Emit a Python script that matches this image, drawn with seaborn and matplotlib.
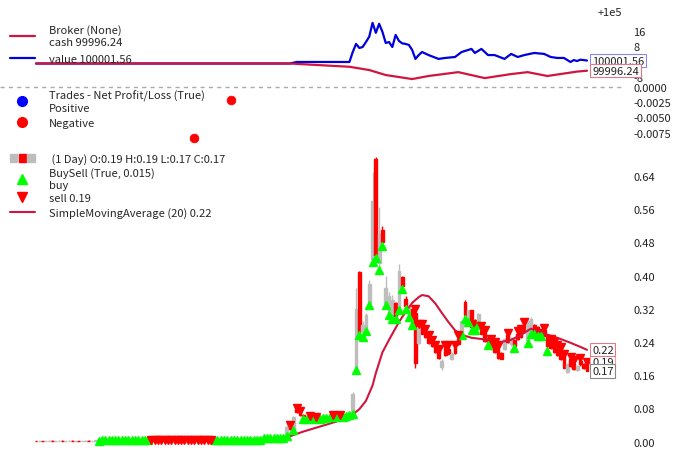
import numpy as np
import pandas as pd
import matplotlib
matplotlib.use("Agg")
import matplotlib.pyplot as plt
import matplotlib.transforms as mtransforms
from matplotlib.patches import Rectangle
from matplotlib.lines import Line2D
from matplotlib.legend_handler import HandlerTuple
import seaborn as sns

sns.set_style("white")
plt.rcParams['font.family'] = ['Noto Sans CJK SC', 'DejaVu Sans']
plt.rcParams['font.size'] = 8
plt.rcParams['axes.unicode_minus'] = False

# ---------------- data ----------------
opens = [
    # 0-18
    .0022, .0020, .0023, .0019, .0022, .0024, .0020, .0021, .0024, .0019, .0022, .0025, .0021, .0023, .0019, .0022, .0024, .0020, .0023,
    # 19-34
    .0027, .0030, .0032, .0029, .0031, .0033, .0030, .0032, .0034, .0031, .0033, .0035, .0032, .0034, .0031, .0033,
    # 35-53
    .0040, .0042, .0041, .0043, .0042, .0044, .0043, .0042, .0044, .0043, .0045, .0044, .0043, .0045, .0044, .0042, .0043, .0041, .0042,
    # 54-68
    .0038, .0040, .0042, .0041, .0043, .0042, .0044, .0043, .0045, .0044, .0046, .0045, .0047, .0046, .0048,
    # 69-74
    .0080, .0088, .0085, .0092, .0090, .0096,
    # 75-95
    .0100, .0140, .0380, .0300, .0780, .0720, .064, .056, .058, .057, .058, .056, .059, .060, .061, .062, .060, .063, .061, .065, .066,
    # 96-114
    .070, .180, .408, .265, .275, .335, .440, .680, .430, .510, .335, .310, .300, .334, .324, .396, .343, .310, .320,
    # 115-128
    .310, .238, .276, .262, .250, .240, .228, .218, .180, .226, .222, .200, .226, .246,
    # 129-148
    .262, .336, .295, .317, .293, .286, .270, .262, .250, .240, .232, .224, .214, .222, .256, .236, .245, .258, .262, .282,
    # 149-167
    .245, .264, .280, .275, .270, .268, .252, .240, .232, .225, .220, .205, .168, .198, .190, .172, .195, .188, .190,
]
highs = [
    .0024, .0025, .0025, .0024, .0026, .0026, .0023, .0026, .0026, .0024, .0027, .0027, .0025, .0025, .0024, .0026, .0026, .0025, .0028,
    .0032, .0034, .0034, .0033, .0035, .0035, .0034, .0036, .0036, .0035, .0037, .0037, .0036, .0036, .0035, .0037,
    .0042, .0044, .0043, .0045, .0044, .0046, .0045, .0044, .0046, .0045, .0047, .0046, .0045, .0047, .0046, .0044, .0045, .0043, .0044,
    .0043, .0045, .0044, .0046, .0045, .0047, .0046, .0048, .0047, .0049, .0048, .0050, .0049, .0051, .0054,
    .0092, .0091, .0095, .0094, .0099, .0104,
    .0150, .0420, .0400, .0620, .0800, .0730, .066, .060, .060, .059, .059, .060, .061, .062, .063, .063, .064, .064, .066, .068, .070,
    .120, .370, .410, .290, .310, .390, .650, .685, .565, .520, .400, .360, .353, .336, .427, .400, .350, .330, .322,
    .315, .280, .280, .266, .254, .242, .230, .220, .198, .228, .228, .215, .228, .252,
    .292, .340, .318, .318, .296, .310, .274, .264, .256, .244, .236, .226, .216, .250, .258, .252, .248, .262, .266, .284,
    .300, .300, .283, .278, .272, .270, .254, .244, .236, .228, .224, .208, .190, .200, .194, .185, .198, .190, .190,
]
lows = [
    .0018, .0018, .0017, .0017, .0020, .0018, .0018, .0019, .0017, .0017, .0020, .0019, .0019, .0017, .0017, .0020, .0018, .0018, .0021,
    .0025, .0028, .0027, .0027, .0029, .0028, .0028, .0030, .0029, .0029, .0031, .0030, .0030, .0029, .0029, .0031,
    .0034, .0037, .0035, .0038, .0036, .0039, .0038, .0036, .0039, .0037, .0040, .0038, .0037, .0040, .0038, .0036, .0038, .0035, .0037,
    .0036, .0038, .0038, .0039, .0040, .0040, .0041, .0041, .0042, .0042, .0043, .0043, .0044, .0044, .0046,
    .0078, .0082, .0083, .0087, .0088, .0094,
    .0095, .0130, .0280, .0280, .0680, .0620, .054, .055, .056, .055, .055, .055, .057, .058, .059, .059, .059, .060, .060, .063, .064,
    .068, .175, .260, .255, .270, .335, .440, .450, .420, .478, .335, .310, .300, .300, .322, .372, .324, .305, .285,
    .178, .236, .258, .250, .236, .228, .214, .200, .172, .205, .210, .196, .212, .232,
    .260, .300, .293, .272, .274, .284, .258, .240, .236, .222, .214, .200, .198, .220, .238, .230, .228, .245, .250, .262,
    .240, .262, .262, .258, .257, .254, .222, .222, .214, .206, .196, .176, .165, .180, .172, .170, .182, .175, .170,
]
closes = [
    .0020, .0023, .0019, .0022, .0024, .0020, .0021, .0024, .0019, .0022, .0025, .0021, .0023, .0019, .0022, .0024, .0020, .0023, .0026,
    .0030, .0032, .0029, .0031, .0033, .0030, .0032, .0034, .0031, .0033, .0035, .0032, .0034, .0031, .0033, .0035,
    .0036, .0039, .0037, .0040, .0038, .0041, .0040, .0038, .0041, .0039, .0042, .0040, .0039, .0042, .0040, .0038, .0040, .0037, .0039,
    .0041, .0043, .0040, .0044, .0042, .0045, .0043, .0046, .0044, .0047, .0045, .0048, .0046, .0049, .0052,
    .0088, .0085, .0092, .0090, .0096, .0100,
    .0140, .0350, .0300, .0580, .0700, .0640, .056, .058, .057, .058, .056, .059, .060, .061, .062, .060, .063, .061, .065, .066, .069,
    .115, .320, .265, .280, .305, .380, .580, .450, .500, .480, .370, .350, .340, .302, .410, .374, .326, .325, .288,
    .190, .276, .260, .252, .238, .230, .216, .202, .195, .208, .212, .212, .214, .236,
    .290, .306, .316, .275, .276, .308, .260, .242, .238, .224, .216, .202, .200, .246, .240, .250, .230, .248, .252, .264,
    .290, .295, .264, .260, .258, .255, .230, .225, .216, .208, .198, .178, .186, .182, .174, .182, .186, .178, .170,
]
# B = buy marker, S = sell marker, - = none (one letter per bar)
signals = ("-------------------"
           "BBBBBBBBBBBBBBBB"
           "SSSSSSSSSSSSSSSSSSS"
           "BBBBBBBBBBBBBBB"
           "BBBBBB"
           "BBSBSSBBSBSBBBBSBSBBB"
           "BBBBBBBBBBBBBBBBBBB"
           "SSSSSSSS"
           "-SS-SS"
           "BBBBBB"
           "SSBSSS--S-BSSS"
           "BBBBB"
           "SBSSSSS-SS-S-S")

sma_idx = [19, 40, 60, 72, 76, 81, 86, 91, 96, 98, 100, 102, 103, 105, 107, 110, 112, 114, 116, 117,
           119, 121, 123, 125, 127, 129, 132, 137, 141, 144, 147, 150, 152, 154, 158, 162, 165, 167]
sma_vals = [.0030, .0033, .0040, .0060, .0100, .024, .036, .048, .065, .078, .098, .135, .165, .215, .245,
            .288, .312, .334, .348, .353, .350, .333, .310, .288, .268, .257, .250, .245, .240, .245,
            .257, .272, .266, .260, .250, .238, .228, .221]

value_idx = [0, 77, 79, 95, 96, 97, 98, 99, 100, 101, 102, 103, 104, 105, 106, 107, 108, 109, 110, 111,
             112, 113, 114, 115, 116, 117, 119, 122, 124, 127, 129, 132, 133, 135, 137, 139, 142, 144,
             146, 148, 151, 154, 156, 158, 160, 162, 163, 164, 165, 167]
value_vals = [100000.0, 100000.0, 100000.8, 100000.8, 100006.0, 100010.2, 100008.1, 100008.6, 100011.2,
              100014.0, 100021.2, 100016.0, 100020.7, 100016.5, 100010.7, 100011.2, 100008.6, 100014.9,
              100011.8, 100010.5, 100010.2, 100009.7, 100007.1, 100002.4, 100004.4, 100006.0, 100004.4,
              100002.4, 100002.9, 100003.4, 100006.0, 100007.6, 100005.5, 100007.6, 100004.4, 100004.4,
              100002.4, 100005.0, 100003.4, 100004.4, 100005.5, 100005.0, 100003.4, 100002.9, 100002.9,
              100000.8, 100001.8, 100001.3, 100002.0, 100001.56]
cash_idx = [0, 77, 95, 101, 106, 114, 119, 128, 136, 144, 149, 155, 164, 167]
cash_vals = [100000.0, 100000.0, 99998.3, 99996.6, 99994.0, 99991.9, 99993.5, 99995.5, 99992.4,
             99994.5, 99995.5, 99993.5, 99995.8, 99996.24]

trade_idx = [48, 59]
trade_pnl = [-0.0084, -0.0021]

broker_ticks = [99992, 100008, 100016]          # the 0 label is covered by the value tags
trade_ticks = [0.0, -0.0025, -0.0050, -0.0075]
price_ticks = [0.00, 0.08, 0.16, 0.24, 0.32, 0.40, 0.48, 0.56, 0.64]

# ---------------- figure ----------------
W, H = 679, 464
fig = plt.figure(figsize=(W / 100, H / 100), dpi=100)
AX_R = 622


def px_axes(top, bottom, left=0, right=AX_R):
    return fig.add_axes([left / W, 1 - bottom / H, (right - left) / W, (bottom - top) / H])


ax_b = px_axes(20, 86)
ax_t = px_axes(86, 148)
ax_p = px_axes(152, 455)

N = len(closes)
x = np.arange(N)
o = np.array(opens); h = np.array(highs); l = np.array(lows); c = np.array(closes)
PPB = 3.3  # pixels per bar
XLIM = (-36 / PPB, N - 1 + (AX_R - 587) / PPB)

CRIMSON = '#d0163f'
BLUE = '#0000dd'
GRAY = '#bdbdbd'
FS = 8
TXT = '#222222'

for ax in (ax_b, ax_t, ax_p):
    for s in ax.spines.values():
        s.set_visible(False)
    ax.set_xlim(*XLIM)
    ax.set_xticks([])
    ax.yaxis.tick_right()
    ax.tick_params(axis='y', length=0, pad=8, labelsize=FS, colors=TXT)

legend_kw = dict(loc='upper left', frameon=False, fontsize=FS, handlelength=2.3,
                 handletextpad=1.2, borderaxespad=0, borderpad=0.2)

# ---- broker panel ----
df_v = pd.DataFrame({'i': value_idx, 'v': value_vals})
df_c = pd.DataFrame({'i': cash_idx, 'v': cash_vals})
sns.lineplot(data=df_v, x='i', y='v', ax=ax_b, color=BLUE, lw=1.6, legend=False)
sns.lineplot(data=df_c, x='i', y='v', ax=ax_b, color=CRIMSON, lw=1.6, legend=False)
ax_b.set_xlabel(''); ax_b.set_ylabel('')
ax_b.set_ylim(99988.8, 100023.2)
ax_b.set_yticks(broker_ticks)
fmt_b = matplotlib.ticker.ScalarFormatter(useOffset=100000)
ax_b.yaxis.set_major_formatter(fmt_b)
ax_b.yaxis.get_offset_text().set_fontsize(FS)
ax_b.yaxis.get_offset_text().set_color(TXT)
hb = [Line2D([], [], color=CRIMSON, lw=1.6), Line2D([], [], color=BLUE, lw=1.6)]
lb = [f"Broker (None)\ncash {cash_vals[-1]:.2f}", f"value {value_vals[-1]:.2f}"]
ax_b.legend(hb, lb, bbox_to_anchor=(0.012, 0.95), labelspacing=0.6, **legend_kw)

# ---- trades panel ----
ax_t.axhline(0, color='#aaaaaa', ls=(0, (3, 3)), lw=1)
sns.scatterplot(x=trade_idx, y=trade_pnl, ax=ax_t, color='red', s=40, edgecolor='red', zorder=3, legend=False)
ax_t.set_xlabel(''); ax_t.set_ylabel('')
ax_t.set_ylim(-0.00987, 0.00033)
ax_t.set_yticks(trade_ticks)
ax_t.yaxis.set_major_formatter(matplotlib.ticker.FormatStrFormatter('%.4f'))
ht = [Line2D([], [], marker='o', color='blue', ls='none', ms=7),
      Line2D([], [], marker='o', color='red', ls='none', ms=7)]
lt = ["Trades - Net Profit/Loss (True)\nPositive", "Negative"]
ax_t.legend(ht, lt, bbox_to_anchor=(0.012, 0.96), labelspacing=0.45, **legend_kw)

# ---- price panel ----
up = c >= o
cols = np.where(up, GRAY, 'red')
ax_p.vlines(x, l, h, colors=cols, lw=1, zorder=2)
ax_p.bar(x, np.abs(c - o), bottom=np.minimum(o, c), width=0.85, color=cols, edgecolor=cols,
         linewidth=1.0, zorder=2)
sig = np.array(list(signals))
bi = x[sig == 'B']; si = x[sig == 'S']
ax_p.plot(bi, l[bi] * (1 - 0.015), ls='none', marker='^', color='lime', ms=6.3, zorder=4)
ax_p.plot(si, h[si] * (1 + 0.015), ls='none', marker='v', color='red', ms=6.3, zorder=4)
df_s = pd.DataFrame({'i': sma_idx, 'v': sma_vals})
sns.lineplot(data=df_s, x='i', y='v', ax=ax_p, color=CRIMSON, lw=1.5, legend=False, zorder=3)
ax_p.set_xlabel(''); ax_p.set_ylabel('')
ax_p.set_ylim(-0.03, 0.70)
ax_p.set_yticks(price_ticks)
ax_p.yaxis.set_major_formatter(matplotlib.ticker.FormatStrFormatter('%.2f'))

candle_h = (Rectangle((0, 0), 1, 1, color=GRAY), Rectangle((0, 0), 1, 1, color='red'),
            Rectangle((0, 0), 1, 1, color=GRAY))
hp = [candle_h,
      Line2D([], [], marker='^', color='lime', ls='none', ms=7),
      Line2D([], [], marker='v', color='red', ls='none', ms=7),
      Line2D([], [], color=CRIMSON, lw=1.5)]
lp = [f" (1 Day) O:{opens[-1]:.2f} H:{highs[-1]:.2f} L:{lows[-1]:.2f} C:{closes[-1]:.2f}",
      "BuySell (True, 0.015)\nbuy",
      f"sell {h[si[-1]]:.2f}",
      f"SimpleMovingAverage (20) {sma_vals[-1]:.2f}"]
ax_p.legend(hp, lp, bbox_to_anchor=(0.012, 1.0), labelspacing=0.3,
            handler_map={tuple: HandlerTuple(ndivide=None, pad=0.1)}, **legend_kw)

for ax in (ax_b, ax_t, ax_p):
    ax.set_xlim(*XLIM)

# lift the broker tick labels a touch so "-8" clears "0.0000" below it
lift = mtransforms.ScaledTranslation(0, 2 / 100, fig.dpi_scale_trans)
for t in ax_b.yaxis.get_major_ticks():
    t.label2.set_transform(t.label2.get_transform() + lift)

# ---- value tags just right of the last bar ----
shift = mtransforms.ScaledTranslation(5 / 100, 0, fig.dpi_scale_trans)


def tag(ax, y, text, ec, z):
    ax.text(N - 1, y, text, transform=ax.transData + shift, ha='left', va='center', fontsize=FS,
            color=TXT, bbox=dict(boxstyle='square,pad=0.15', fc='white', ec=ec, lw=0.8),
            zorder=z, clip_on=False)


tag(ax_b, value_vals[-1], f"{value_vals[-1]:.2f}", '#8888ee', 10)
tag(ax_b, cash_vals[-1], f"{cash_vals[-1]:.2f}", '#e07a8a', 11)
tag(ax_p, h[si[-1]] * 1.015, f"{h[si[-1]]:.2f}", '#f0a0a0', 10)
tag(ax_p, sma_vals[-1], f"{sma_vals[-1]:.2f}", '#e07a8a', 11)
tag(ax_p, closes[-1], f"{closes[-1]:.2f}", '#888888', 12)

fig.savefig("out.png", dpi=100)
